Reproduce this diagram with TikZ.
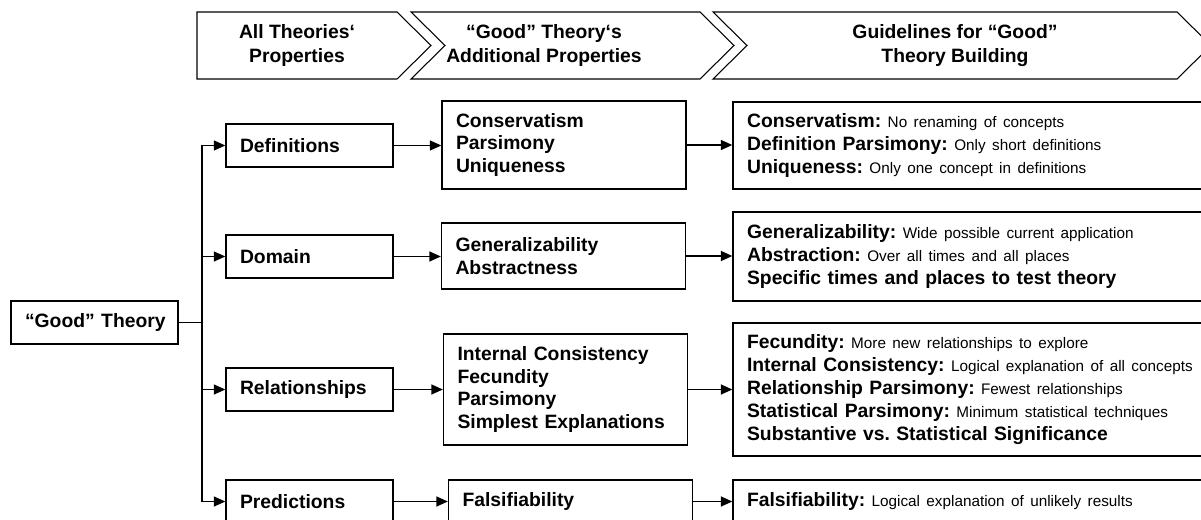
\documentclass[tikz,border=0pt]{standalone}
\usepackage{fontspec}
\setmainfont{Liberation Sans}
\usetikzlibrary{arrows.meta,positioning}

\hyphenpenalty=10000
\exhyphenpenalty=10000
\frenchspacing
\newcommand\gnote[1]{{\mdseries\fontsize{8.7}{13}\selectfont #1}}

\begin{document}
\begin{tikzpicture}[x=0.02cm,y=-0.02cm,
  box/.style={draw, line width=0.8pt, inner xsep=0.28cm, inner ysep=0pt, align=left,
    font=\fontsize{11}{13}\selectfont\bfseries},
  chev/.style={draw, line width=0.6pt},
  head/.style={align=center, font=\fontsize{11}{13.6}\selectfont\bfseries},
  arr/.style={-{Triangle[length=2.3mm,width=2mm]}, line width=0.8pt}]
\useasboundingbox (0,0) rectangle (1201,520);
\clip (0,0) rectangle (1201,520);
\draw [chev] (197,12) -- (397,12) -- (431,45.5) -- (397,79) -- (197,79) -- cycle;
\draw [chev] (411,12) -- (700,12) -- (734,45.5) -- (700,79) -- (411,79) -- (445,45.5) -- cycle;
\draw [chev] (713,12) -- (1177,12) -- (1211,45.5) -- (1177,79) -- (713,79) -- (747,45.5) -- cycle;
\node [head] (hd1) at (297,45.5) {All Theories‘\\Properties};
\node [head] (hd2) at (544,45.5) {“Good” Theory‘s\\Additional Properties};
\node [head] (hd3) at (955,45.5) {Guidelines for “Good”\\Theory Building};
\node [box, text width=2.78cm, minimum height=0.86cm] (gt) at (94.5,322.5) {\mbox{“Good” Theory}};
\node [box, text width=2.78cm, minimum height=0.86cm] (defs) at (309.5,145.5) {Definitions};
\node [box, text width=2.78cm, minimum height=0.86cm] (dom) at (309.5,256.5) {Domain};
\node [box, text width=2.78cm, minimum height=0.86cm] (rel) at (309.5,389.5) {Relationships};
\node [box, text width=2.78cm, minimum height=0.86cm] (pred) at (309.5,501.5) {Predictions};
\node [box, text width=4.32cm, minimum height=1.76cm] (mdef) at (564,145) {Conservatism\\Parsimony\\Uniqueness};
\node [box, text width=4.32cm, minimum height=1.32cm] (mdom) at (563.5,256) {Generalizability\\Abstractness};
\node [box, text width=4.32cm, minimum height=2.22cm] (mrel) at (565.5,389.5) {Internal Consistency\\Fecundity\\Parsimony\\Simplest Explanations};
\node [box, text width=4.32cm, minimum height=0.86cm] (mpred) at (570.5,501.5) {Falsifiability};
\node [box, text width=9.08cm, minimum height=1.74cm] (rdef) at (974,145.5)
  {Conservatism: \gnote{No renaming of concepts}\\
   Definition Parsimony: \gnote{Only short definitions}\\
   Uniqueness: \gnote{Only one concept in definitions}};
\node [box, text width=9.08cm, minimum height=1.78cm] (rdom) at (974,256.5)
  {Generalizability: \gnote{Wide possible current application}\\
   Abstraction: \gnote{Over all times and all places}\\
   Specific times and places to test theory};
\node [box, text width=9.08cm, minimum height=2.66cm] (rrel) at (974,389.5)
  {Fecundity: \gnote{More new relationships to explore}\\
   Internal Consistency: \gnote{Logical explanation of all concepts}\\
   Relationship Parsimony: \gnote{Fewest relationships}\\
   Statistical Parsimony: \gnote{Minimum statistical techniques}\\
   Substantive vs. Statistical Significance};
\node [box, text width=9.08cm, minimum height=0.86cm] (rpred) at (974,501.5)
  {Falsifiability: \gnote{Logical explanation of unlikely results}};
\coordinate (split) at (202,322.5);
\draw [line width=0.8pt] (gt.east) -- (split);
\draw [line width=0.8pt] (split |- defs.west) -- (split |- pred.west);
\foreach \n in {defs,dom,rel,pred}
  \draw [arr] (split |- \n.west) -- (\n.west);
\foreach \a/\b in {defs/mdef,dom/mdom,rel/mrel,pred/mpred,mdef/rdef,mdom/rdom,mrel/rrel,mpred/rpred}
  \draw [arr] (\a.east) -- (\a.east -| \b.west);
\end{tikzpicture}
\end{document}
